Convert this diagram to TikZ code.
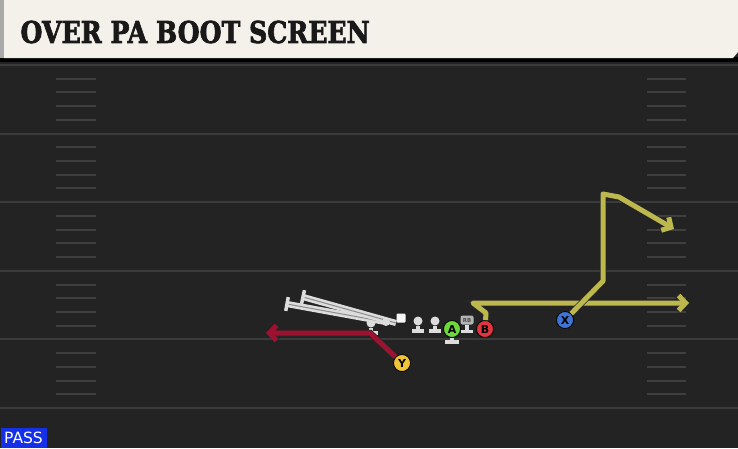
\documentclass[tikz,border=0pt]{standalone}
\usepackage{fontspec}
\setmainfont{DejaVu Serif}
\setsansfont{DejaVu Sans}
\newfontfamily\titlefont{DejaVu Serif}[BoldFeatures={FakeBold=2.5}]
\usepackage{tikz}
\usetikzlibrary{arrows.meta}
\usetikzlibrary{calc}
\definecolor{field}{HTML}{232323}
\definecolor{cream}{HTML}{F3F1EA}
\definecolor{hgray}{HTML}{A9A9A9}
\definecolor{yardgray}{HTML}{3B3B3B}
\definecolor{hashgray}{HTML}{3F3F3F}
\definecolor{lgray}{HTML}{DCDCDC}
\definecolor{midgray}{HTML}{8C8C8C}
\definecolor{rbgray}{HTML}{B4B4B4}
\definecolor{olive}{HTML}{BDB84E}
\definecolor{routered}{HTML}{9C1230}
\definecolor{agreen}{HTML}{6CD83A}
\definecolor{bred}{HTML}{E23540}
\definecolor{xblue}{HTML}{3F73D4}
\definecolor{yyellow}{HTML}{EFC43A}
\definecolor{passblue}{HTML}{1630E8}

\begin{document}
\begin{tikzpicture}[x=1pt, y=-1pt, line width=1pt,
  yard/.style={draw=yardgray, line width=2pt},
  hash/.style={draw=hashgray, line width=2pt},
  route/.style={line width=5pt, line join=round, preaction={draw=black!85, line width=6.5pt},
    -{Straight Barb[length=7pt, width=15pt]}},
  player/.style={circle, draw=black, line width=0.8pt, minimum size=17pt, inner sep=0pt,
    font=\sffamily\bfseries\fontsize{11}{11}\selectfont},
  lineman/.style={circle, fill=lgray, minimum size=9pt, inner sep=0pt},
  stem/.style={draw=lgray, line width=3.5pt},
  block/.style={draw=lgray, double=midgray, double distance=1pt, line width=2.6pt},
  tcap/.style={draw=lgray, line width=3.5pt}]
\useasboundingbox (0,0) rectangle (738,448);
\fill[field] (0,0) rectangle (738,448);

\fill[black] (0,57) rectangle (738,62);
\fill[cream] (4,0) -- (738,0) -- (738,52) -- (733,58) -- (4,58) -- cycle;
\fill[hgray] (0,0) rectangle (4,58);
\node[anchor=west, inner sep=0pt, text=black!90, font=\titlefont\bfseries\fontsize{30}{30}\selectfont] (title) at (20,32)
  {\scalebox{0.84}[1]{OVER PA BOOT SCREEN}};

\foreach \y in {65,133.6,202.2,270.8,339.4,408}
  \draw[yard] (0,\y) -- (738,\y);
\foreach \i in {0,...,4}
  \foreach \k in {1,...,4} {
    \pgfmathsetmacro{\hy}{65+68.6*\i+13.7*\k}
    \draw[hash] (56,\hy) -- (96,\hy);
    \draw[hash] (647,\hy) -- (686,\hy);
  }

\node[fill=passblue, text=white, anchor=south west, minimum width=46pt, minimum height=20pt,
  inner sep=0pt, font=\sffamily\fontsize{15.5}{15.5}\selectfont] (pass) at (0,448) {PASS};

\coordinate (s1) at (287,304);
\coordinate (e1) at (386,322);
\coordinate (s2) at (303,297);
\node[fill=white!94!gray, minimum size=9pt, inner sep=0pt, rounded corners=1pt] (C) at (401,318) {};
\node[lineman] (qb) at (371,323) {};
\draw[stem] (qb) -- ++(0,10) ++(-7,0) -- ++(14,0);
\draw[block] (s1) -- (e1);
\draw[block] (s2) -- (C.south west);
\fill[lgray] (e1) circle (4);
\draw[tcap] ($(s1)!7pt!90:(e1)$) -- ($(s1)!7pt!-90:(e1)$);
\draw[tcap] ($(s2)!7pt!90:(C)$) -- ($(s2)!7pt!-90:(C)$);

\foreach \n/\x in {lt/418, lg/435} {
  \node[lineman] (\n) at (\x,321) {};
  \draw[stem] (\n) -- ++(0,10) ++(-6,0) -- ++(12,0);
}
\node[fill=rbgray, rounded corners=2pt, minimum width=13pt, minimum height=9pt, inner sep=0pt,
  text=black!70, font=\sffamily\bfseries\fontsize{5.5}{5.5}\selectfont] (rb) at (467,320) {RB};
\draw[stem] (rb.south) -- ++(0,6.5) ++(-6,0) -- ++(12,0);

\node[player, fill=agreen] (A) at (452,329) {A};
\draw[stem] (A.south) -- ++(0,4) ++(-7,0) -- ++(14,0);
\node[player, fill=bred] (B) at (485,329) {B};
\node[player, fill=xblue] (X) at (565,320) {X};
\node[player, fill=yyellow] (Y) at (402,363) {Y};

\coordinate (ybend) at (370,333);
\coordinate (yend) at (266,333);
\coordinate (b1) at (486,313);
\coordinate (b2) at (473,303);
\coordinate (bend) at (689,303);
\coordinate (x1) at (603,281);
\coordinate (x2) at (603,194);
\coordinate (x3) at (619,197);
\coordinate (xend) at (674,229);

\draw[route, draw=routered] (Y) -- (ybend) -- (yend);
\draw[route, draw=olive] (B) -- (b1) -- (b2) -- (bend);
\draw[route, draw=olive] (X) -- (x1) -- (x2) -- (x3) -- (xend);
\end{tikzpicture}
\end{document}
